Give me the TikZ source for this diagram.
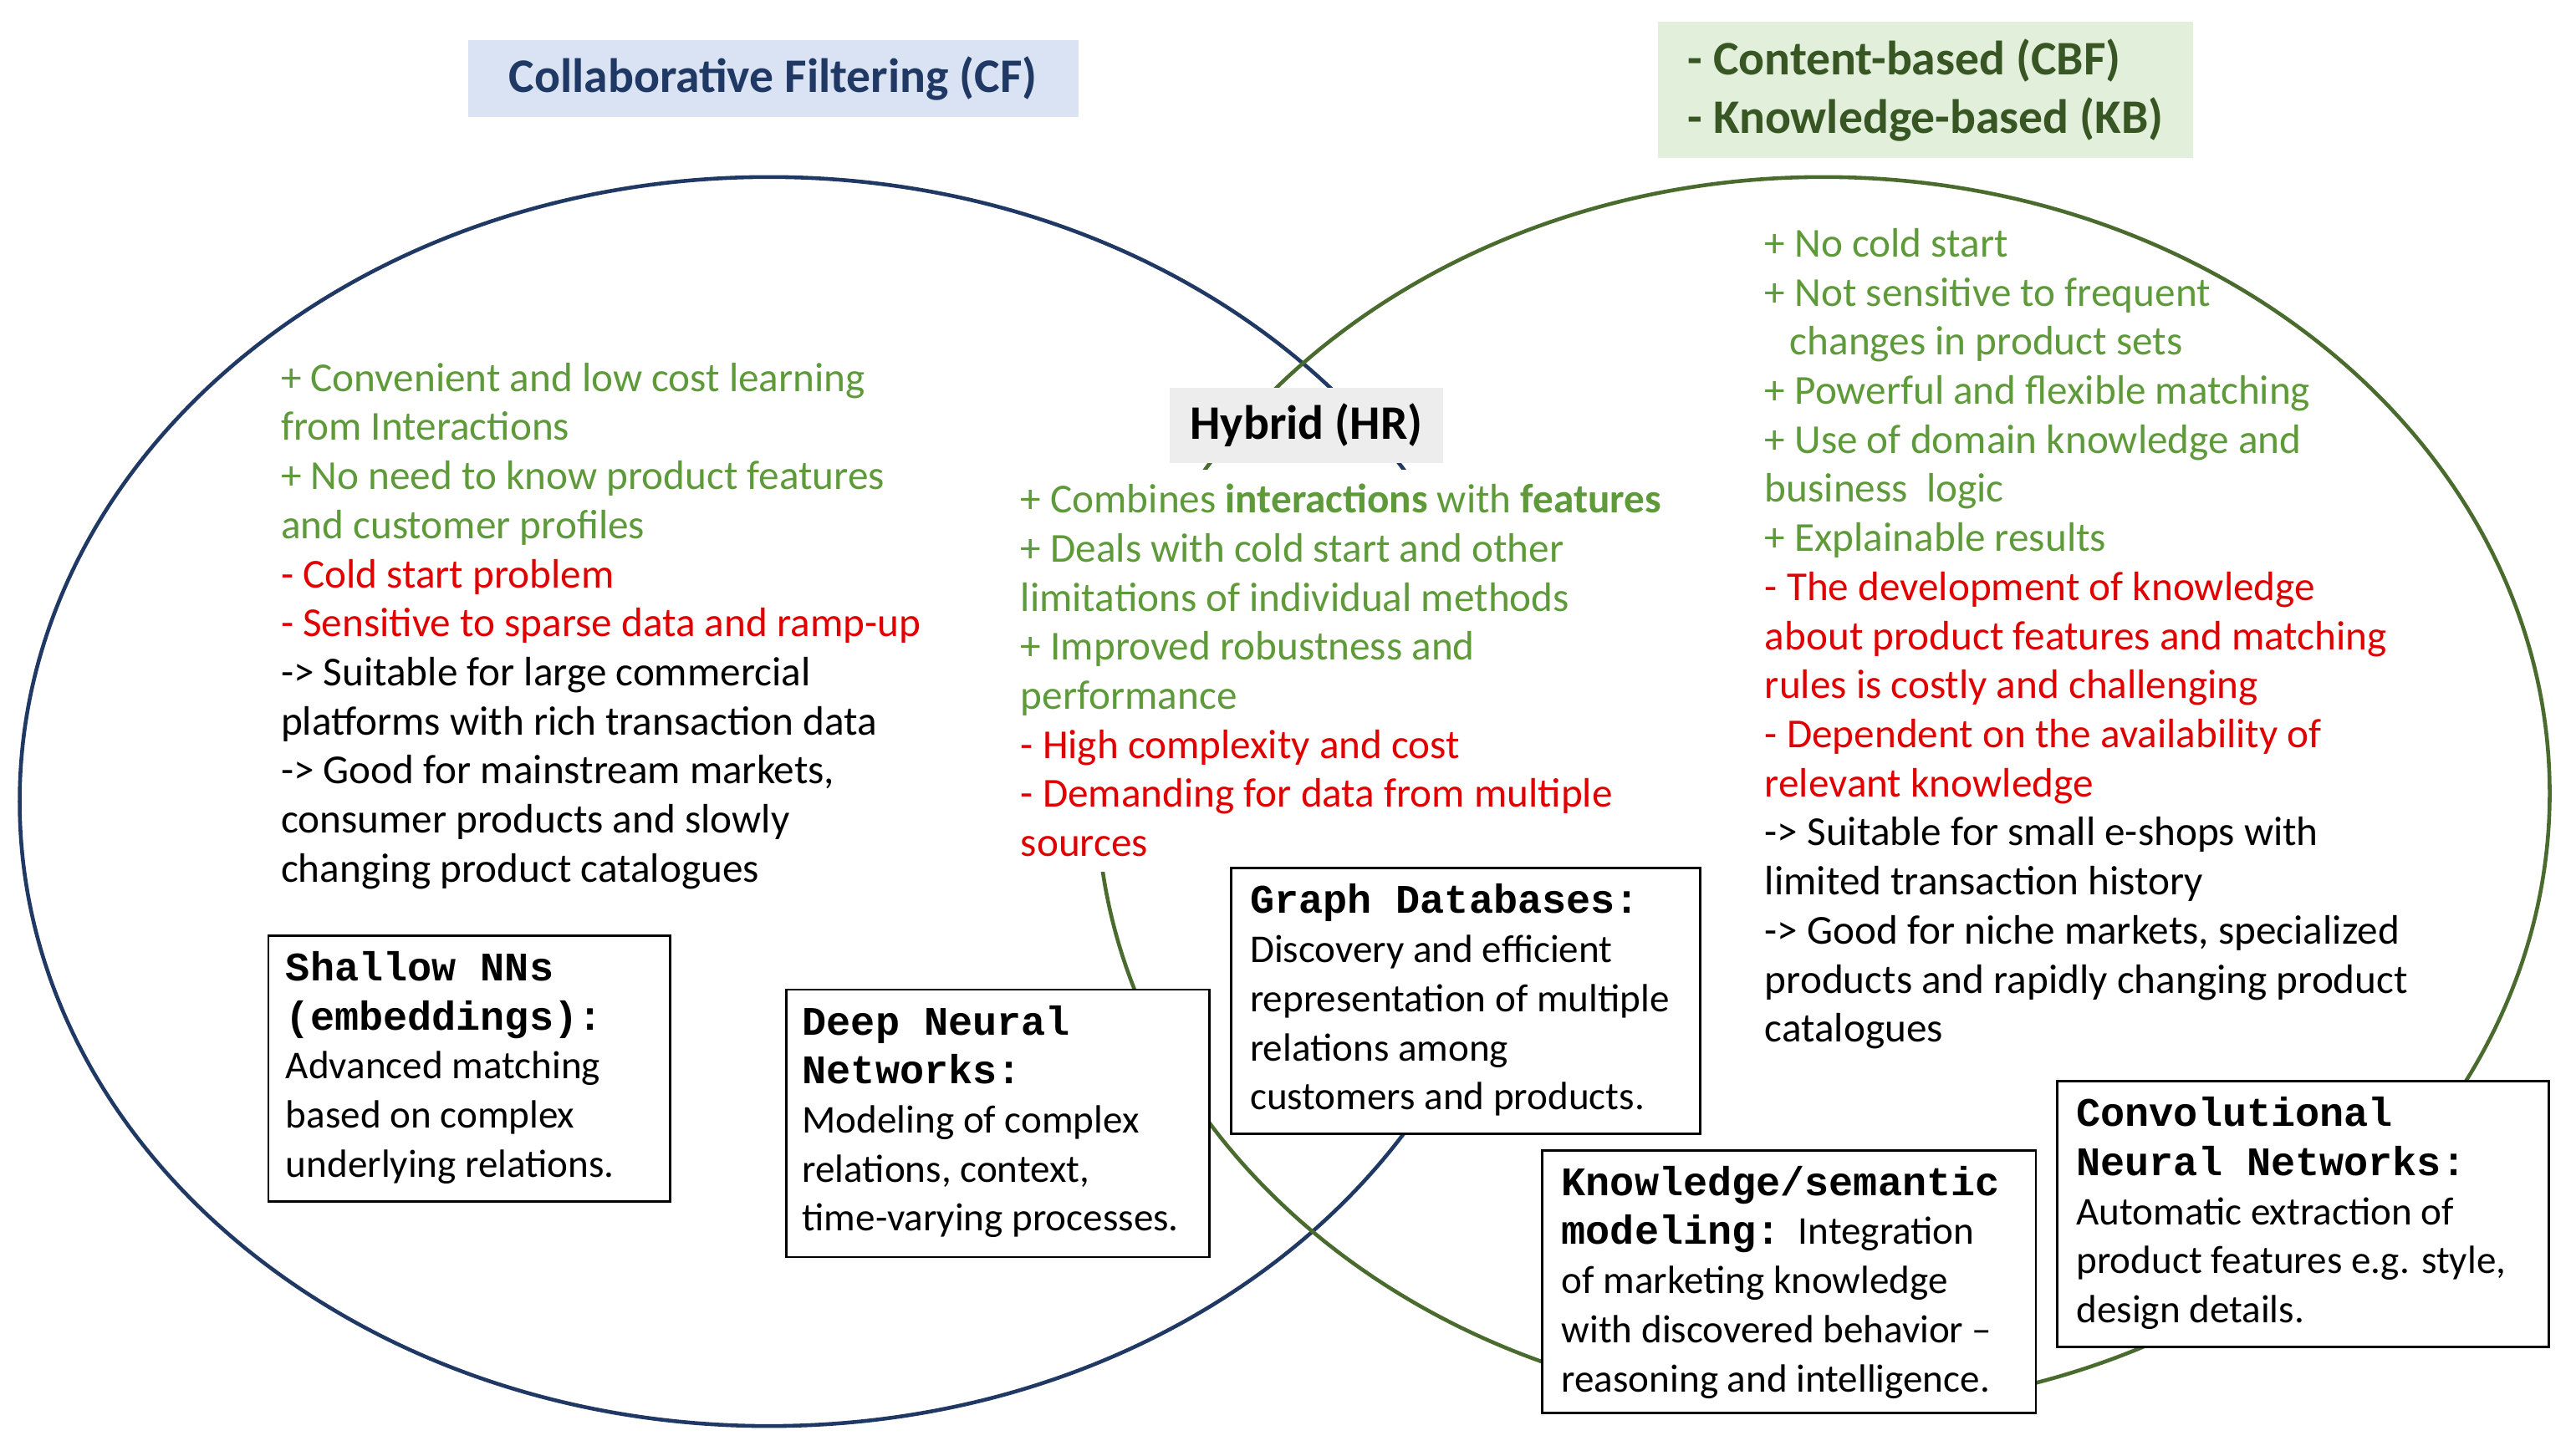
\documentclass[tikz,border=0pt]{standalone}
\usepackage{fontspec}
\setmainfont{Carlito}
\newfontfamily\monof{Liberation Mono}
\definecolor{navy}{HTML}{1F3864}
\definecolor{dgreen}{HTML}{4A6B2E}
\definecolor{tgreen}{HTML}{5E9A3A}
\definecolor{tred}{HTML}{E00000}
\definecolor{cfbg}{HTML}{DAE3F3}
\definecolor{cftx}{HTML}{1F3864}
\definecolor{cbbg}{HTML}{E2EFDA}
\definecolor{cbtx}{HTML}{375623}
\definecolor{hrbg}{HTML}{EDEDED}
\newcommand{\g}[1]{\textcolor{tgreen}{#1}}
\newcommand{\rd}[1]{\textcolor{tred}{#1}}
\newcommand{\mb}[1]{{\fontsize{13.8}{16.7}\monof\bfseries #1}}
\begin{document}
\begin{tikzpicture}[x=0.01961cm,y=-0.01961cm,
  txt/.style={anchor=north west,inner sep=0pt,align=left,font=\fontsize{14}{16.7}\selectfont},
  btxt/.style={anchor=north west,inner sep=0pt,align=left,font=\fontsize{13.4}{16.7}\selectfont},
  box/.style={draw=black,line width=0.8pt,fill=white,anchor=north west,inner sep=0pt},
  ttl/.style={font=\fontsize{16.4}{20}\selectfont\bfseries,inner sep=0pt}]
\useasboundingbox (0,0) rectangle (1568,888);
\draw[navy,line width=1.3pt] (469,489) ellipse [x radius=457,y radius=381];
\draw[dgreen,line width=1.3pt] (1112,484) ellipse [x radius=443,y radius=376];

\node[fill=cfbg,minimum width=7.30cm,minimum height=0.92cm,anchor=north west,inner sep=0pt] (cf) at (285,24) {};
\node[ttl,text=cftx] at (cf.center) {Collaborative Filtering (CF)};
\node[fill=cbbg,minimum width=6.39cm,minimum height=1.63cm,anchor=north west,inner sep=0pt] (cb) at (1011,13) {};
\node[ttl,text=cbtx,align=left] at (cb.center) {- Content-based (CBF)\\- Knowledge-based (KB)};
\node[fill=hrbg,minimum width=3.27cm,minimum height=0.90cm,anchor=north west,inner sep=0pt] (hr) at (713,236) {};
\node[ttl,text=black] at (hr.center) {Hybrid (HR)};

\node[txt] (cft) at (171,221) {\g{+ Convenient and low cost learning}\\\g{from Interactions}\\\g{+ No need to know product features}\\\g{and customer profiles}\\\rd{- Cold start problem}\\\rd{- Sensitive to sparse data and ramp-up}\\-> Suitable for large commercial\\platforms with rich transaction data\\-> Good for mainstream markets,\\consumer products and slowly\\changing product catalogues};

\node[txt,fill=white,inner xsep=4pt,inner ysep=5pt] (hrt) at (615,286) {\g{+ Combines \textbf{interactions} with \textbf{features}}\\\g{+ Deals with cold start and other}\\\g{limitations of individual methods}\\\g{+ Improved robustness and}\\\g{performance}\\\rd{- High complexity and cost}\\\rd{- Demanding for data from multiple}\\\rd{sources}};

\node[txt] (cbt) at (1076,139) {\g{+ No cold start}\\\g{+ Not sensitive to frequent}\\\g{\hspace*{0.3cm}changes in product sets}\\\g{+ Powerful and flexible matching}\\\g{+ Use of domain knowledge and}\\\g{business\ \ logic}\\\g{+ Explainable results}\\\rd{- The development of knowledge}\\\rd{about product features and matching}\\\rd{rules is costly and challenging}\\\rd{- Dependent on the availability of}\\\rd{relevant knowledge}\\-> Suitable for small e-shops with\\limited transaction history\\-> Good for niche markets, specialized\\products and rapidly changing product\\catalogues};

\node[box,minimum width=4.80cm,minimum height=3.18cm] (b1) at (163,570) {};
\node[btxt] at ([shift={(11,10)}]b1.north west) {\mb{Shallow NNs}\\\mb{(embeddings):}\\Advanced matching\\based on complex\\underlying relations.};
\node[box,minimum width=5.06cm,minimum height=3.20cm] (b2) at (479,603) {};
\node[btxt] at ([shift={(10,10)}]b2.north west) {\mb{Deep Neural}\\\mb{Networks:}\\Modeling of complex\\relations, context,\\time-varying processes.};
\node[box,minimum width=5.61cm,minimum height=3.18cm] (b3) at (750,529) {};
\node[btxt] at ([shift={(12,10)}]b3.north west) {\mb{Graph Databases:}\\Discovery and efficient\\representation of multiple\\relations among\\customers and products.};
\node[box,minimum width=5.90cm,minimum height=3.14cm] (b4) at (940,701) {};
\node[btxt] at ([shift={(12,10)}]b4.north west) {\mb{Knowledge/semantic}\\\mb{modeling:}\ \ Integration\\of marketing knowledge\\with discovered behavior --\\reasoning and intelligence.};
\node[box,minimum width=5.88cm,minimum height=3.18cm] (b5) at (1254,659) {};
\node[btxt] at ([shift={(12,10)}]b5.north west) {\mb{Convolutional}\\\mb{Neural Networks:}\\Automatic extraction of\\product features e.g. style,\\design details.};
\end{tikzpicture}
\end{document}
